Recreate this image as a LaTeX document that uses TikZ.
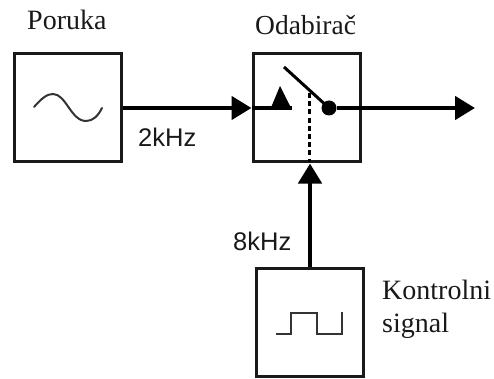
\documentclass[tikz,border=0pt]{standalone}
\usepackage{fontspec}
\setmainfont{Liberation Serif}
\newfontfamily\labelsans{Liberation Sans}
\usetikzlibrary{arrows.meta}
\tikzset{
  blockbox/.style={draw=black!90,line width=3pt,minimum width=107pt,minimum height=108pt,inner sep=0pt,fill=white},
  serifl/.style={inner sep=0pt,anchor=base west,font=\fontsize{28}{30}\selectfont,text=black!90},
  sansl/.style={inner sep=0pt,anchor=base west,font=\labelsans\fontsize{25.5}{28}\selectfont,text=black!90},
  sigline/.style={draw=black,line width=4.6pt},
  headtip/.style={-{Triangle[length=20pt,width=23pt,fill=black]}},
  thin sig/.style={draw=black!80,line width=2pt}
}
\begin{document}
\begin{tikzpicture}[x=1pt,y=-1pt]
\useasboundingbox (0,0) rectangle (494,379);
% blocks
\node[blockbox] (msg) at (68,108) {};
\node[blockbox] (sel) at (306.5,108) {};
\node[blockbox] (ctl) at (310,322.5) {};
% texts
\node[serifl] (tp) at (27,30) {Poruka};
\node[serifl,font=\fontsize{27.5}{30}\selectfont] (to) at (255,35) {Odabirač};
\node[serifl] (tk) at (382,299) {Kontrolni};
\node[serifl] (ts) at (382,332) {signal};
\node[sansl] (f2) at (138,147) {2kHz};
\node[sansl] (f8) at (233,250) {8kHz};
% coordinates
\coordinate (contact) at (292,108);
\coordinate (pivot) at (329,108);
\coordinate (armEnd) at (284,67);
\coordinate (outEnd) at (475,108);
\coordinate (dashTop) at (309.5,93);
\coordinate (dashEnd) at (309.5,162);
% input
\draw[sigline,headtip] (msg.east) -- (sel.west);
\draw[sigline] (sel.west) -- (contact);
\fill[black] (270,110) -- (280,86) -- (292,110) -- cycle;
% switch
\draw[line width=3pt,black] (armEnd) -- (pivot);
\draw[line width=3.5pt,black,dash pattern=on 5pt off 3.2pt] (dashTop) -- (dashEnd);
\node[circle,fill=black,minimum size=15pt,inner sep=0pt] (pv) at (pivot) {};
% output
\draw[sigline,headtip] (pv) -- (outEnd);
% control
\draw[sigline,headtip] (ctl.north) -- (sel.south -| ctl.north);
% sine
\draw[thin sig,line cap=round] (34,107) .. controls (42,98) and (47,94) .. (53,94)
  .. controls (66,94) and (71,121) .. (86,121)
  .. controls (93,121) and (98,116) .. (102,108);
% square
\draw[thin sig] (276,334) -- (291,334) -- (291,313) -- (317,313) -- (317,334) -- (342,334) -- (342,312);
\end{tikzpicture}
\end{document}
